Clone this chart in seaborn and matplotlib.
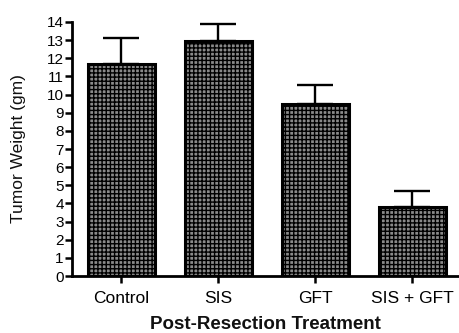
import matplotlib
matplotlib.use("Agg")
import matplotlib.pyplot as plt
import seaborn as sns
import pandas as pd
import numpy as np

# Tumour weight after resection, mean with upper SEM whisker
treatments = ["Control", "SIS", "GFT", "SIS + GFT"]
tumor_weight = [11.7, 12.95, 9.5, 3.8]
sem_upper = [1.4, 0.95, 1.0, 0.9]
y_ticks = list(range(0, 15))

sns.set_theme(style="ticks")
plt.rcParams["font.family"] = ["Liberation Sans", "DejaVu Sans"]
plt.rcParams["hatch.color"] = "#202020"
plt.rcParams["hatch.linewidth"] = 1.0

fig = plt.figure(figsize=(4.59, 3.33), dpi=100)
ax = fig.add_axes([0.157, 0.171, 0.843, 0.763])

df = pd.DataFrame({"Treatment": treatments, "Weight": tumor_weight})
sns.barplot(data=df, x="Treatment", y="Weight", color="#8a8a8a", saturation=1,
            width=0.69, errorbar=None, edgecolor="black", linewidth=2.2, ax=ax)
for bar in ax.patches:
    bar.set_hatch("++++")

ax.errorbar(np.arange(len(treatments)), tumor_weight,
            yerr=[np.zeros(len(sem_upper)), sem_upper], fmt="none",
            ecolor="black", elinewidth=1.7, capsize=13, capthick=1.7, zorder=3)

ax.set_xlim(-0.505, 3.48)
ax.set_ylim(0, 14)
ax.set_yticks(y_ticks)
ax.set_yticklabels([str(t) for t in y_ticks], fontsize=11)
ax.tick_params(axis="y", length=5, width=1.8, pad=1, colors="black")
ax.tick_params(axis="x", length=5, width=1.8, pad=6, labelsize=12.5, colors="black")

for side in ("top", "right"):
    ax.spines[side].set_visible(False)
for side in ("left", "bottom"):
    ax.spines[side].set_linewidth(2)
    ax.spines[side].set_color("black")

ax.set_ylabel("Tumor Weight (gm)", fontsize=12.5, labelpad=15, color="#111111")
ax.set_xlabel("Post-Resection Treatment", fontsize=13.5, fontweight="bold",
              labelpad=7, color="#111111")

fig.savefig("out.png", dpi=100)
